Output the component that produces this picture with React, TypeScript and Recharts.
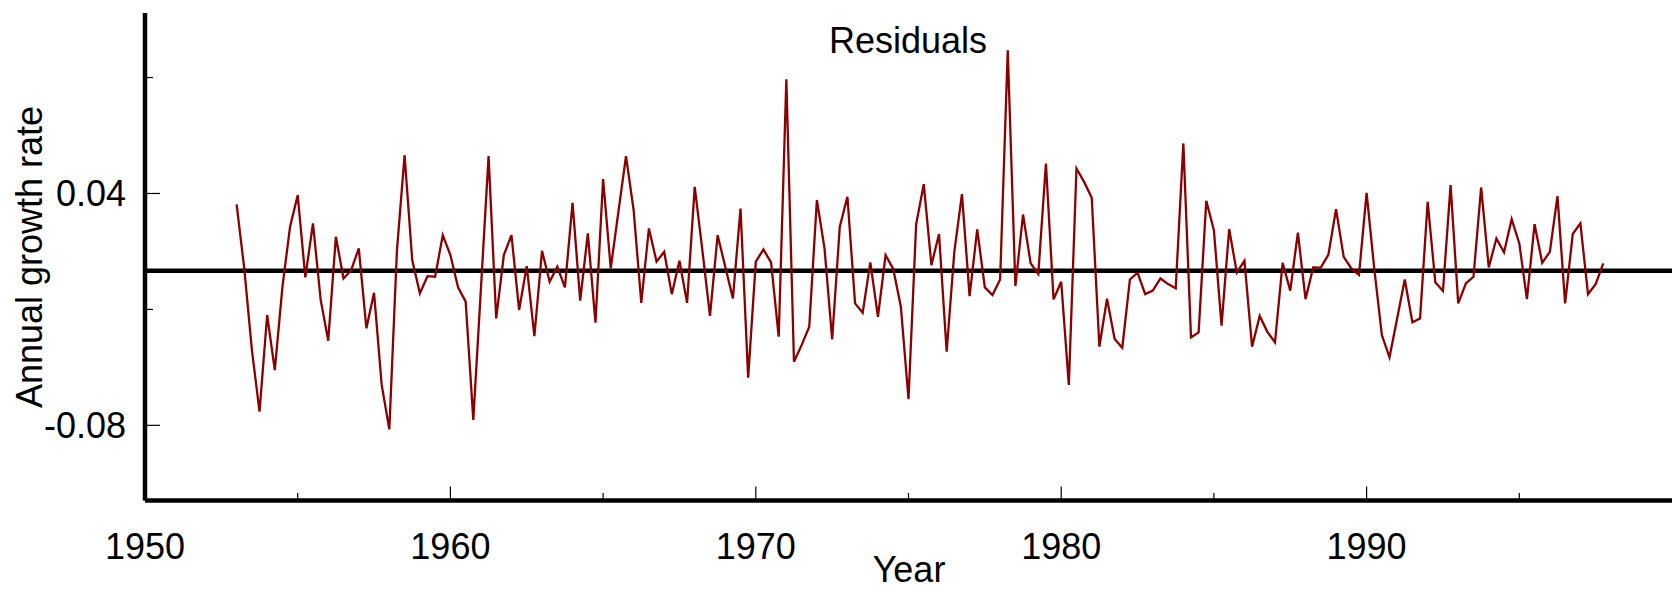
import { LineChart, Line, XAxis, YAxis, ReferenceLine } from "recharts";

// quarterly residuals, first quarter of 1953 onwards
const startYear = 1953;

const res1953 = [
  0.0343, 0.0012, -0.041, -0.0729, -0.0229, -0.0514, -0.0083, 0.0228, 0.0391, -0.0034,
  0.0245, -0.0148, -0.0362, 0.0176, -0.004, 0.0003, 0.0116, -0.0298, -0.0114, -0.0591,
];
const res1958 = [
  -0.0821, 0.0107, 0.0598, 0.0055, -0.0117, -0.0028, -0.0031, 0.0184, 0.0081, -0.0086,
  -0.016, -0.0772, -0.0091, 0.0593, -0.0247, 0.0081, 0.0184, -0.0203, 0.0024, -0.0338,
];
const res1963 = [
  0.0103, -0.0057, 0.0021, -0.0086, 0.0352, -0.0155, 0.0193, -0.0269, 0.0474, 0.0012,
  0.0304, 0.0593, 0.0314, -0.0166, 0.0219, 0.0047, 0.0098, -0.0121, 0.0052, -0.0166,
];
const res1968 = [
  0.0434, 0.0107, -0.0234, 0.0184, 0.0021, -0.0143, 0.0322, -0.0553, 0.0047, 0.011,
  0.0043, -0.0341, 0.0991, -0.0471, -0.0385, -0.029, 0.0366, 0.0116, -0.0355, 0.0228,
];
const res1973 = [
  0.0383, -0.0169, -0.0217, 0.0043, -0.0238, 0.0081, 0.001, -0.0186, -0.0665, 0.024,
  0.0448, 0.0029, 0.019, -0.0419, 0.0098, 0.0397, -0.0131, 0.0214, -0.0086, -0.0126,
];
const res1978 = [
  -0.0045, 0.1141, -0.0079, 0.0291, 0.0038, -0.0017, 0.0555, -0.0148, -0.0057, -0.0591,
  0.0529, 0.046, 0.0378, -0.0393, -0.0145, -0.0353, -0.0398, -0.0045, -0.001, -0.0121,
];
const res1983 = [
  -0.0103, -0.004, -0.0069, -0.0091, 0.0659, -0.0345, -0.0319, 0.0362, 0.021, -0.0284,
  0.0216, -0.001, 0.0052, -0.0393, -0.0234, -0.0316, -0.0371, 0.0041, -0.0103, 0.0197,
];
const res1988 = [
  -0.0147, 0.0017, 0.0016, 0.0084, 0.0319, 0.0072, 0.0012, -0.0022, 0.0403, 0.0012,
  -0.0333, -0.0448, -0.0247, -0.0045, -0.0267, -0.0247, 0.0357, -0.006, -0.0105, 0.0443,
];
const res1993 = [
  -0.0169, -0.0066, -0.0031, 0.0431, 0.0017, 0.0167, 0.0095, 0.0267, 0.0141, -0.0147,
  0.0241, 0.0041, 0.0098, 0.0386, -0.0169, 0.019, 0.0245, -0.0121, -0.0069, 0.0038,
];

const residuals = [
  ...res1953, ...res1958, ...res1963, ...res1968, ...res1973,
  ...res1978, ...res1983, ...res1988, ...res1993,
];

const xTicks = [1950, 1955, 1960, 1965, 1970, 1975, 1980, 1985, 1990, 1995];
const xLabels = [1950, 1960, 1970, 1980, 1990];
const yTicks = [-0.08, -0.02, 0.04, 0.1];
const yLabels = ["-0.08", "0.04"];

const data = residuals.map((v, i) => ({ year: startYear + i / 4, v }));

const FONT = "'Liberation Sans', Arial, Helvetica, sans-serif";

function XTick({ x, y, payload }: any) {
  const major = xLabels.includes(payload.value);
  return (
    <g>
      <line x1={x} x2={x} y1={y} y2={y - (major ? 14 : 7.5)} stroke="#000" strokeWidth={1.2} />
      {major && (
        <text x={x} y={y + 58} textAnchor="middle" fontSize={36} fontFamily={FONT} fill="#000">
          {payload.value}
        </text>
      )}
    </g>
  );
}

function YTick({ x, y, payload }: any) {
  const label = Number(payload.value).toFixed(2);
  const major = yLabels.includes(label);
  return (
    <g>
      <line x1={x} x2={x + (major ? 15 : 8)} y1={y} y2={y} stroke="#000" strokeWidth={1.2} />
      {major && (
        <text x={x - 19} y={y + 13} textAnchor="end" fontSize={36} fontFamily={FONT} fill="#000">
          {label}
        </text>
      )}
    </g>
  );
}

export default function App() {
  return (
    <div style={{ position: "absolute", left: 0, top: 0, width: 1672, height: 589, background: "#fff" }}>
      <LineChart
        width={1672}
        height={589}
        data={data}
        margin={{ top: 13, right: 0, bottom: 0, left: 0 }}
      >
        <XAxis
          dataKey="year"
          type="number"
          domain={[1950, 2000]}
          ticks={xTicks}
          interval={0}
          height={88.5}
          tickLine={false}
          tickSize={0}
          tickMargin={0}
          axisLine={{ stroke: "#000", strokeWidth: 4.5 }}
          tick={(p: any) => <XTick {...p} />}
        />
        <YAxis
          type="number"
          domain={[-0.1189, 0.1334]}
          allowDataOverflow
          ticks={yTicks}
          interval={0}
          width={145}
          tickLine={false}
          tickSize={0}
          tickMargin={0}
          axisLine={{ stroke: "#000", strokeWidth: 4.5 }}
          tick={(p: any) => <YTick {...p} />}
        />
        <ReferenceLine y={0} stroke="#000" strokeWidth={4.5} />
        <Line
          type="linear"
          dataKey="v"
          stroke="#8b0000"
          strokeWidth={2.3}
          dot={false}
          isAnimationActive={false}
        />
      </LineChart>
      <svg
        width={1672}
        height={589}
        style={{ position: "absolute", left: 0, top: 0, pointerEvents: "none" }}
      >
        <text x={908} y={53} textAnchor="middle" fontSize={36} fontFamily={FONT} fill="#000">
          Residuals
        </text>
        <text x={909} y={582} textAnchor="middle" fontSize={36} fontFamily={FONT} fill="#000">
          Year
        </text>
        <text
          x={42}
          y={257}
          textAnchor="middle"
          fontSize={36}
          fontFamily={FONT}
          fill="#000"
          transform="rotate(-90 42 257)"
        >
          Annual growth rate
        </text>
      </svg>
    </div>
  );
}
